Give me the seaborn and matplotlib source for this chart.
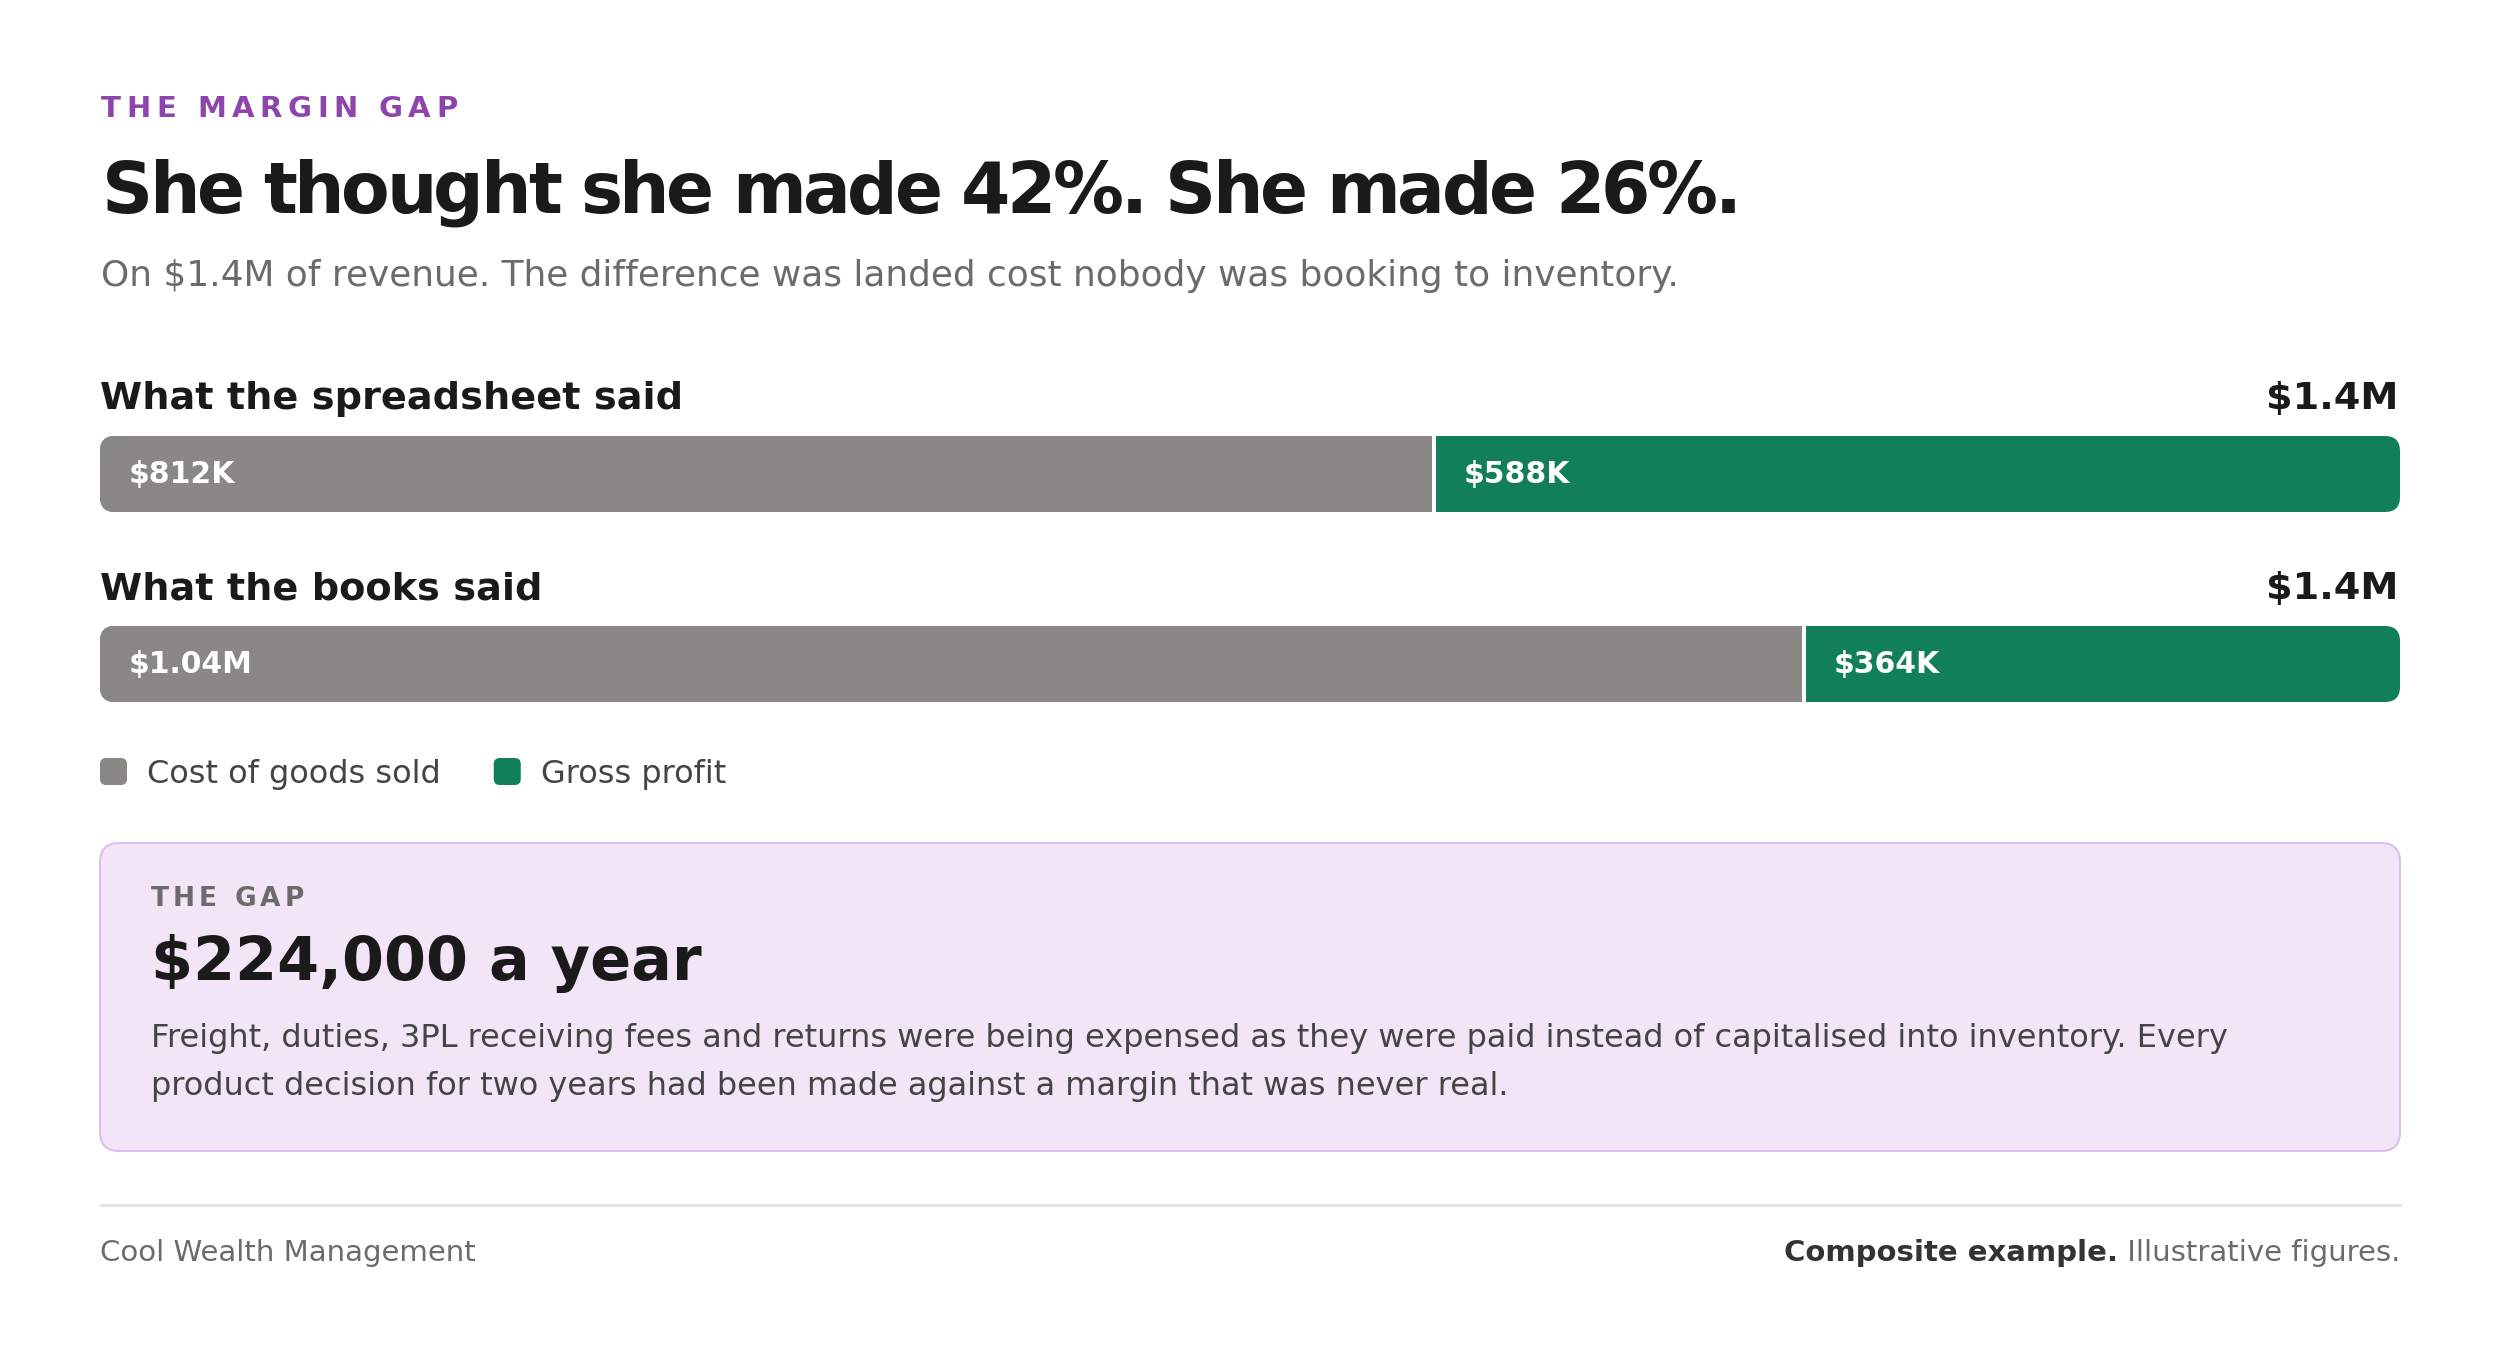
import matplotlib
matplotlib.use("Agg")
import matplotlib.pyplot as plt
import seaborn as sns
import pandas as pd
from matplotlib.patches import FancyBboxPatch
from matplotlib.transforms import IdentityTransform

# data ($K)
rows = ["What the spreadsheet said", "What the books said"]
cogs = [812, 1040]
profit = [588, 364]
cogs_labels = ["$812K", "$1.04M"]
profit_labels = ["$588K", "$364K"]
total_labels = ["$1.4M", "$1.4M"]
legend_labels = ["Cost of goods sold", "Gross profit"]

GRAY = "#8a8884"
GREEN = "#117f5a"
PURPLE = "#8e44ad"
DARK = "#1a1a1a"
MUTED = "#6b6b6b"

W, H = 2500, 1350
L, R = 100, 2400

sns.set_theme(style="white")
plt.rcParams['font.family'] = ['DejaVu Sans']

fig = plt.figure(figsize=(25, 13.5), dpi=100)
fig.patch.set_facecolor("white")
bg = fig.add_axes([0, 0, 1, 1])
bg.set_xlim(0, W)
bg.set_ylim(H, 0)
bg.axis('off')
renderer = fig.canvas.get_renderer()


def spaced(x, y, s, spacing, **kw):
    # letter-spaced text, one glyph at a time
    ref = bg.text(0, 0, "H", **kw)
    wh = ref.get_window_extent(renderer).width
    ref.remove()
    for i, ch in enumerate(s):
        if ch == " ":
            continue
        t = bg.text(0, 0, s[:i] + "H", **kw)
        w = t.get_window_extent(renderer).width - wh
        t.remove()
        bg.text(x + w + i * spacing, y, ch, **kw)


# header
spaced(L + 1, 117, "THE MARGIN GAP", 5.5, fontsize=21, fontweight='bold', color=PURPLE, va='baseline')
spaced(L + 2, 213, "She thought she made 42%. She made 26%.", -3.3, fontsize=51, fontweight='bold',
       color=DARK, va='baseline')
bg.text(L + 1, 286, "On $1.4M of revenue. The difference was landed cost nobody was booking to inventory.",
        fontsize=25.8, color=MUTED, va='baseline')

# bars: each row is its own 100% stacked bar
df = pd.DataFrame({"row": rows, "cogs": cogs, "profit": profit})
df["total"] = df["cogs"] + df["profit"]
df["cogs_share"] = df["cogs"] / df["total"]
df["full"] = df["total"] / df["total"]

ax = fig.add_axes([L / W, 1 - 759 / H, (R - L) / W, 380 / H])
sns.barplot(data=df, x="full", y="row", color=GREEN, width=0.4, saturation=1,
            errorbar=None, orient="h", linewidth=0, ax=ax)
sns.barplot(data=df, x="cogs_share", y="row", color=GRAY, width=0.4, saturation=1,
            errorbar=None, orient="h", linewidth=0, ax=ax)
ax.set_xlim(0, 1)
ax.set_ylim(1.5, -0.5)
ax.axis('off')

n = len(rows)
seps = []
for i in range(n):
    gray_p = ax.patches[n + i]
    y0 = gray_p.get_y()
    y1 = y0 + gray_p.get_height()
    xs = df["cogs_share"].iloc[i]
    sep, = ax.plot([xs, xs], [y0, y1], color="white", lw=2.9, solid_capstyle='butt')
    seps.append(sep)
ax.set_xlim(0, 1)
ax.set_ylim(1.5, -0.5)
fig.canvas.draw()

for i in range(n):
    green_p = ax.patches[i]
    gray_p = ax.patches[n + i]
    bb = green_p.get_window_extent(renderer)
    clip = FancyBboxPatch((bb.x0, bb.y0), bb.width, bb.height,
                          boxstyle="round,pad=0,rounding_size=15", transform=IdentityTransform())
    for a in (green_p, gray_p, seps[i]):
        a.set_clip_path(clip)

    xs = df["cogs_share"].iloc[i]
    ax.annotate(cogs_labels[i], xy=(0, i), xytext=(29, 0), textcoords='offset pixels',
                va='center', ha='left', color='white', fontsize=21.5, fontweight='bold')
    ax.annotate(profit_labels[i], xy=(xs, i), xytext=(30, 0), textcoords='offset pixels',
                va='center', ha='left', color='white', fontsize=21.5, fontweight='bold')
    ax.annotate(rows[i], xy=(0, i), xytext=(0, 65), textcoords='offset pixels',
                va='baseline', ha='left', color=DARK, fontsize=27.5, fontweight='bold')
    ax.annotate(total_labels[i], xy=(1, i), xytext=(-2, 65), textcoords='offset pixels',
                va='baseline', ha='right', color=DARK, fontsize=27.5, fontweight='bold')

# legend
lx = L
for lab, col in zip(legend_labels, [GRAY, GREEN]):
    bg.add_patch(FancyBboxPatch((lx, 758), 27, 27, boxstyle="round,pad=0,rounding_size=6",
                                facecolor=col, edgecolor='none'))
    t = bg.text(lx + 47, 783, lab, fontsize=23, color="#444444", va='baseline')
    lx = lx + 47 + t.get_window_extent(renderer).width + 53

# callout box
bg.add_patch(FancyBboxPatch((L, 843), R - L, 308, boxstyle="round,pad=0,rounding_size=19",
                            facecolor="#f3e5f8", edgecolor="#dcc0ec", lw=1.5))
spaced(151, 906, "THE GAP", 4, fontsize=19, fontweight='bold', color=MUTED, va='baseline')
bg.text(151, 980, "$224,000 a year", fontsize=43.5, fontweight='bold', color=DARK, va='baseline')
bg.text(151, 1047, "Freight, duties, 3PL receiving fees and returns were being expensed as they were "
        "paid instead of capitalised into inventory. Every", fontsize=23, color="#444444",
        va='baseline')
bg.text(151, 1095, "product decision for two years had been made against a margin that was never real.",
        fontsize=23, color="#444444", va='baseline')

# footer
bg.plot([L, R], [1205, 1205], color="#e3e3e3", lw=2)
bg.text(L, 1261, "Cool Wealth Management", fontsize=21, color=MUTED, va='baseline')
t2 = bg.text(R, 1261, " Illustrative figures.", fontsize=21, color=MUTED, va='baseline', ha='right')
w2 = t2.get_window_extent(renderer).width
bg.text(R - w2, 1261, "Composite example.", fontsize=21, fontweight='bold', color="#333333",
        va='baseline', ha='right')

fig.savefig("out.png", dpi=100, facecolor="white")
